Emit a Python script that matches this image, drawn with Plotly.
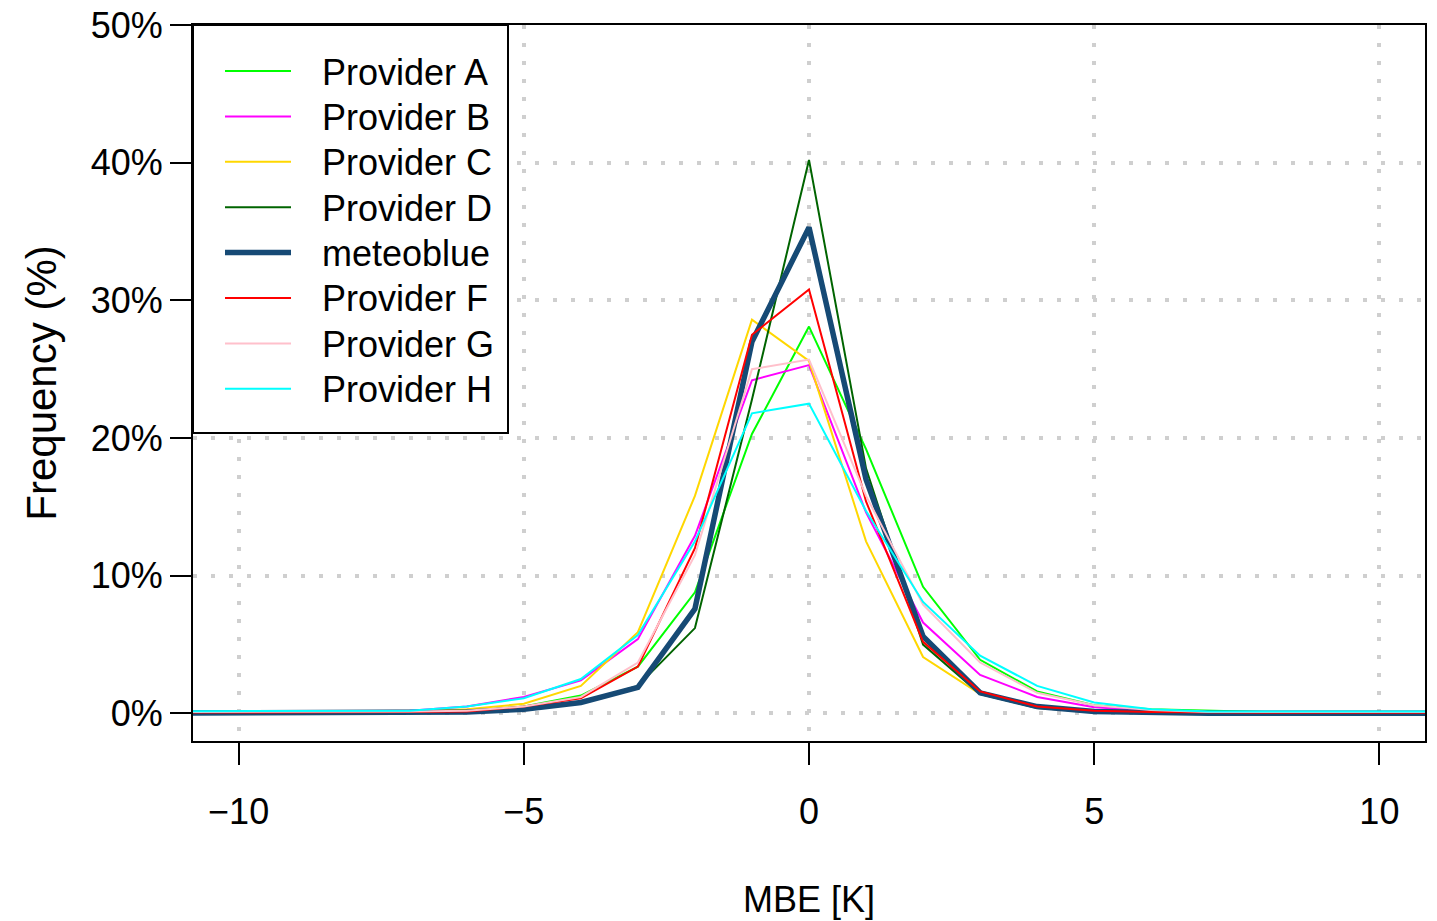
import plotly.graph_objects as go

# ---- data (frequency in %) ----
mbe = [-12, -11, -10, -9, -8, -7, -6, -5, -4, -3, -2, -1, 0, 1, 2, 3, 4, 5, 6, 7, 8, 9, 10, 11, 12]

provider_a = [0.1, 0.1, 0.1, 0.1, 0.1, 0.1, 0.2, 0.5, 1.3, 3.4, 8.8, 20.3, 28.1, 19.2, 9.2, 3.9, 1.6, 0.6, 0.3, 0.2, 0.1, 0.1, 0.1, 0.1, 0.1]
provider_b = [0.1, 0.1, 0.1, 0.1, 0.15, 0.2, 0.5, 1.2, 2.4, 5.4, 12.9, 24.2, 25.3, 14.6, 6.6, 2.8, 1.2, 0.45, 0.2, 0.1, 0.1, 0.1, 0.1, 0.1, 0.1]
provider_c = [0.05, 0.05, 0.05, 0.05, 0.1, 0.15, 0.3, 0.7, 2.0, 5.9, 15.8, 28.6, 25.6, 12.5, 4.1, 1.4, 0.5, 0.2, 0.1, 0.05, 0.05, 0.05, 0.05, 0.05, 0.05]
provider_d = [0.02, 0.02, 0.02, 0.02, 0.05, 0.05, 0.1, 0.3, 0.8, 2.0, 6.2, 22.8, 40.2, 17.8, 5.0, 1.4, 0.4, 0.1, 0.05, 0.02, 0.02, 0.02, 0.02, 0.02, 0.02]
meteoblue = [0.02, 0.02, 0.02, 0.02, 0.05, 0.05, 0.1, 0.3, 0.8, 1.9, 7.6, 27.0, 35.3, 17.0, 5.6, 1.5, 0.5, 0.15, 0.05, 0.02, 0.02, 0.02, 0.02, 0.02, 0.02]
provider_f = [0.05, 0.05, 0.05, 0.05, 0.05, 0.1, 0.15, 0.5, 1.1, 3.4, 12.0, 27.5, 30.8, 15.4, 5.2, 1.6, 0.5, 0.2, 0.1, 0.05, 0.05, 0.05, 0.05, 0.05, 0.05]
provider_g = [0.1, 0.1, 0.1, 0.1, 0.1, 0.15, 0.2, 0.5, 1.2, 3.7, 11.5, 25.0, 25.7, 15.8, 7.9, 3.7, 1.5, 0.6, 0.25, 0.1, 0.1, 0.1, 0.1, 0.1, 0.1]
provider_h = [0.15, 0.15, 0.15, 0.15, 0.15, 0.2, 0.5, 1.1, 2.5, 5.7, 12.5, 21.8, 22.5, 14.7, 8.1, 4.2, 2.0, 0.8, 0.3, 0.15, 0.15, 0.15, 0.15, 0.15, 0.15]

names = ["Provider A", "Provider B", "Provider C", "Provider D", "meteoblue",
         "Provider F", "Provider G", "Provider H"]
series = [provider_a, provider_b, provider_c, provider_d, meteoblue,
          provider_f, provider_g, provider_h]
colors = ["#00ff00", "#ff00ff", "#ffd700", "#006400", "#164a75",
          "#ff0000", "#ffc0cb", "#00ffff"]
widths = [2, 2, 2, 2, 5.5, 2, 2, 2]

y_ticks = [0, 10, 20, 30, 40, 50]
y_labels = ["0%", "10%", "20%", "30%", "40%", "50%"]
x_ticks = [-10, -5, 0, 5, 10]
x_labels = ["\u221210", "\u22125", "0", "5", "10"]

FONT = "Liberation Sans, Arial, Helvetica, sans-serif"

fig = go.Figure()
for n, ys, c, w in zip(names, series, colors, widths):
    fig.add_trace(go.Scatter(x=mbe, y=ys, mode="lines", name=n,
                             line=dict(color=c, width=w), showlegend=False))

# page offset (body margin) compensation: figure coords = screen - 8
OFF = 8
L, R_, T, B = 193 - OFF, 1425 - OFF, 25 - OFF, 741 - OFF
W, H = R_ - L, B - T
def px(x):
    return (x - OFF - L) / W
def py(y):
    return (B - (y - OFF)) / H

shapes = [dict(type="rect", xref="paper", yref="paper",
               x0=px(193), x1=px(508), y0=py(433), y1=py(25),
               line=dict(color="black", width=2), fillcolor="white", layer="above")]
annotations = []
for i, (n, c, w) in enumerate(zip(names, colors, widths)):
    yy = 71 + i * 45.4
    shapes.append(dict(type="line", xref="paper", yref="paper",
                       x0=px(225), x1=px(291), y0=py(yy), y1=py(yy),
                       line=dict(color=c, width=w), layer="above"))
    annotations.append(dict(xref="paper", yref="paper", x=px(320), y=py(yy + 1),
                            text=n, showarrow=False, xanchor="left", yanchor="middle",
                            font=dict(family=FONT, size=36, color="black")))

fig.update_layout(
    width=1437, height=921,
    margin=dict(l=L, r=1437 - R_, t=T, b=921 - B, autoexpand=False),
    paper_bgcolor="white", plot_bgcolor="white",
    font=dict(family=FONT, size=36, color="black"),
    shapes=shapes, annotations=annotations,
    showlegend=False,
)
fig.update_xaxes(
    range=[-10.8, 10.8], tickmode="array", tickvals=x_ticks, ticktext=x_labels,
    ticks="outside", ticklen=22, tickwidth=2,
    tickcolor="black", ticklabelstandoff=16, automargin=False,
    ticklabeloverflow="allow",
    showline=True, linecolor="black", linewidth=2, mirror=True,
    showgrid=True, gridcolor="#cfcfcf", gridwidth=4, griddash="4px,14px",
    zeroline=False, layer="above traces",
    title=dict(text="MBE [K]", font=dict(size=36), standoff=56),
    tickfont=dict(size=36),
)
fig.update_yaxes(
    range=[-2, 50], tickmode="array", tickvals=y_ticks, ticktext=y_labels,
    ticks="outside", ticklen=21,
    tickwidth=2, tickcolor="black", ticklabelstandoff=0, automargin=False,
    ticklabeloverflow="allow",
    showline=True, linecolor="black", linewidth=2, mirror=True,
    showgrid=True, gridcolor="#cfcfcf", gridwidth=4, griddash="4px,14px",
    zeroline=False, layer="above traces",
    title=dict(text="Frequency (%)", font=dict(size=42), standoff=21),
    tickfont=dict(size=36),
)

fig.write_html("out.html")
